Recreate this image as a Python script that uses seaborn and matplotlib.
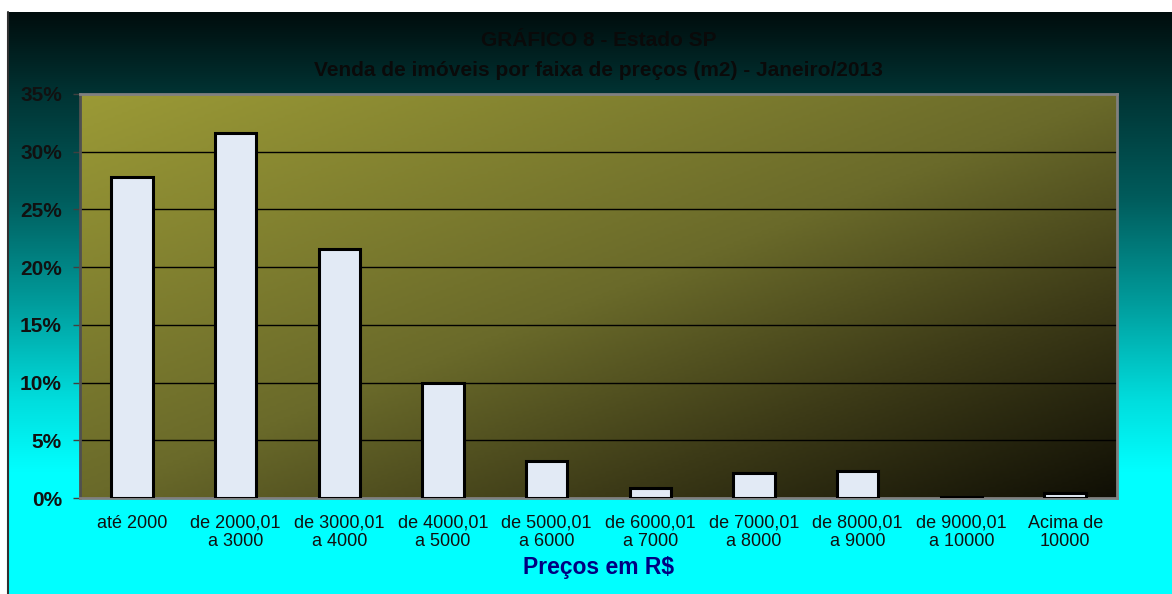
import numpy as np
import pandas as pd
import matplotlib
matplotlib.use("Agg")
import matplotlib.pyplot as plt
from matplotlib.colors import LinearSegmentedColormap
import seaborn as sns

# dados
faixas = ["até 2000", "de 2000,01\na 3000", "de 3000,01\na 4000", "de 4000,01\na 5000",
          "de 5000,01\na 6000", "de 6000,01\na 7000", "de 7000,01\na 8000",
          "de 8000,01\na 9000", "de 9000,01\na 10000", "Acima de\n10000"]
percentuais = [27.8, 31.6, 21.6, 10.0, 3.2, 0.9, 2.2, 2.3, 0.1, 0.4]
yticks = [0, 5, 10, 15, 20, 25, 30, 35]

dataSet = pd.DataFrame({"Faixa": faixas, "Pct": percentuais})

sns.set_style("white")
plt.rcParams['font.family'] = ['Liberation Sans', 'DejaVu Sans']

W, H = 1172, 594
fig = plt.figure(figsize=(W / 100, H / 100), dpi=100)
fig.patch.set_facecolor("white")

# fundo da figura: gradiente vertical preto -> ciano
bg = fig.add_axes([8 / W, 0, 1 - 8 / W, (H - 12) / H], zorder=-10)
bgMap = LinearSegmentedColormap.from_list("bg", [(0, "#000d0d"), (0.15, "#003636"),
                                                 (0.32, "#005c5c"), (0.5, "#009c9c"),
                                                 (0.67, "#00dede"), (0.79, "#00ffff"),
                                                 (1, "#00ffff")])
grad = np.linspace(0, 1, 256).reshape(-1, 1)
bg.imshow(grad, aspect="auto", cmap=bgMap, extent=[0, 1, 1, 0])
bg.set_axis_off()
fig.add_artist(plt.Line2D([8 / W, 8 / W], [0, (H - 12) / H], color="#303030", lw=1.5))

# área do gráfico: gradiente diagonal oliva -> preto
L, R, T, B = 80, 1117, 94, 498
ax = fig.add_axes([L / W, (H - B) / H, (R - L) / W, (B - T) / H])
areaMap = LinearSegmentedColormap.from_list("area", [(0, "#9b9a36"), (0.5, "#6a6a2a"),
                                                     (0.75, "#3c3a17"), (1, "#100f05")])
xx, yy = np.meshgrid(np.linspace(0, 1, 300), np.linspace(0, 1, 150))
diag = (xx + yy) / 2
ax.imshow(diag, aspect="auto", cmap=areaMap, extent=[0, 1, 0, 1],
          transform=ax.transAxes, zorder=0, origin="upper")

for v in yticks[1:-1]:
    ax.axhline(v, color="black", lw=1, zorder=1)

sns.barplot(data=dataSet, x="Faixa", y="Pct", ax=ax, color="#e2eaf5",
            edgecolor="black", linewidth=2.2, width=0.4, saturation=1, zorder=3)

ax.set_xlim(-0.5, len(faixas) - 0.5)
ax.set_ylim(0, 35)
ax.set_yticks(yticks)
ax.set_yticklabels([f"{v}%" for v in yticks], fontsize=15, fontweight="bold", color="#111111")
ax.set_xticks(range(len(faixas)))
ax.set_xticklabels(faixas, fontsize=13, color="#111111", linespacing=1.1)
ax.set_xticks(np.arange(-0.5, len(faixas)), minor=True)
ax.tick_params(axis="x", which="major", length=0, pad=12)
ax.tick_params(axis="x", which="minor", length=5, width=1, color="#404040", direction="out")
ax.tick_params(axis="y", length=5, width=1, color="#404040", direction="out", pad=8, left=True)
ax.set_xlabel("Preços em R$", fontsize=16.5, fontweight="bold", color="#000080", labelpad=4)
ax.set_ylabel("")

for side in ["top", "right", "bottom"]:
    ax.spines[side].set_color("#808080")
    ax.spines[side].set_linewidth(2)
ax.spines["left"].set_color("#505050")
ax.spines["left"].set_linewidth(2)

fig.text((L + R) / 2 / W, 1 - 41 / H, "GRÁFICO 8 - Estado SP", ha="center", va="center",
         fontsize=15, fontweight="bold", color="#0a0a0a")
fig.text((L + R) / 2 / W, 1 - 70 / H, "Venda de imóveis por faixa de preços (m2) - Janeiro/2013",
         ha="center", va="center", fontsize=15, fontweight="bold", color="#0a0a0a")

fig.savefig("out.png", dpi=100)
